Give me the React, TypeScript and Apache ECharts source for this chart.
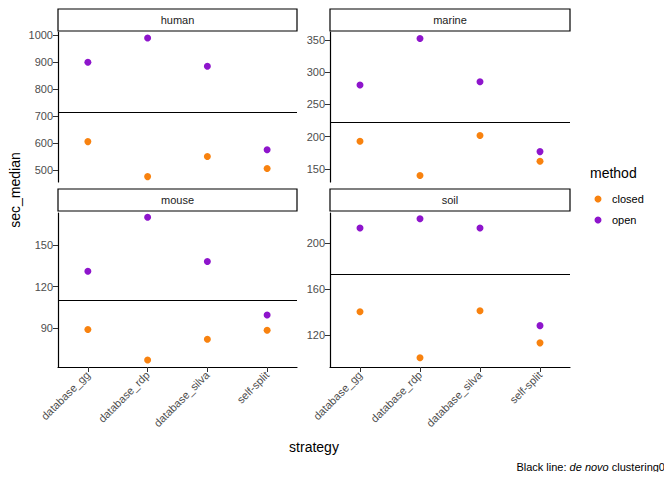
import React, { useEffect, useRef } from 'react';
import * as echarts from 'echarts';

const strategies = ['database_gg', 'database_rdp', 'database_silva', 'self-split'];
const panels = ['human', 'marine', 'mouse', 'soil'];
const closedValues = [
  [605, 475, 550, 505],
  [193, 140, 202, 162],
  [89, 67, 82, 88.5],
  [140, 100, 141, 113],
];
const openValues = [
  [900, 990, 885, 575],
  [280, 352, 285, 177],
  [131, 170, 138, 99.5],
  [213, 221, 213, 128],
];
const deNovo = [715, 222, 110, 173];
const yTicks = [
  [500, 600, 700, 800, 900, 1000],
  [150, 200, 250, 300, 350],
  [90, 120, 150],
  [120, 160, 200],
];
const yRanges = [
  [455, 1012],
  [130, 362],
  [62, 173],
  [92, 226],
];

const CLOSED = '#F8820F';
const OPEN = '#8E15CC';
const FONT = 'Liberation Sans, Arial, sans-serif';
const O = 8; // body margin offset

const App = () => {
  const chartRef = useRef<HTMLDivElement>(null);

  useEffect(() => {
    if (!chartRef.current) return;
    const chart = echarts.init(chartRef.current, null, { renderer: 'svg' });

    const boxes = [
      { left: 58 - O, top: 32 - O, width: 239, height: 150 },
      { left: 330 - O, top: 32 - O, width: 240, height: 150 },
      { left: 58 - O, top: 213 - O, width: 239, height: 154 },
      { left: 330 - O, top: 213 - O, width: 240, height: 154 },
    ];

    const series: any[] = [];
    panels.forEach((_, i) => {
      series.push({
        type: 'scatter', xAxisIndex: i, yAxisIndex: i, symbolSize: 7,
        itemStyle: { color: CLOSED, opacity: 1 }, data: closedValues[i],
        markLine: {
          silent: true, symbol: 'none', label: { show: false },
          lineStyle: { color: '#000', type: 'solid', width: 1.2 },
          data: [{ yAxis: deNovo[i] }],
        },
      });
      series.push({
        type: 'scatter', xAxisIndex: i, yAxisIndex: i, symbolSize: 7,
        itemStyle: { color: OPEN, opacity: 1 }, data: openValues[i],
      });
    });

    const graphic: any[] = [];
    panels.forEach((name, i) => {
      const b = boxes[i];
      const top = (i < 2 ? 9 : 189) - O;
      graphic.push({
        type: 'rect', shape: { x: b.left, y: top, width: b.width, height: 22 },
        style: { fill: '#fff', stroke: '#000', lineWidth: 1.2 },
      });
      graphic.push({
        type: 'text', x: b.left + b.width / 2, y: top + 11,
        style: { text: name, fill: '#1a1a1a', font: `11px ${FONT}`, align: 'center', verticalAlign: 'middle' },
      });
    });
    graphic.push(
      { type: 'text', x: 590 - O, y: 173 - O, style: { text: 'method', fill: '#000', font: `14px ${FONT}`, verticalAlign: 'middle' } },
      { type: 'circle', shape: { cx: 598 - O, cy: 199 - O, r: 3.5 }, style: { fill: CLOSED } },
      { type: 'text', x: 612 - O, y: 199 - O, style: { text: 'closed', fill: '#000', font: `11px ${FONT}`, verticalAlign: 'middle' } },
      { type: 'circle', shape: { cx: 598 - O, cy: 220 - O, r: 3.5 }, style: { fill: OPEN } },
      { type: 'text', x: 612 - O, y: 220 - O, style: { text: 'open', fill: '#000', font: `11px ${FONT}`, verticalAlign: 'middle' } },
      { type: 'text', x: 314 - O, y: 447 - O, style: { text: 'strategy', fill: '#000', font: `14px ${FONT}`, align: 'center', verticalAlign: 'middle' } },
      {
        type: 'text', x: 15 - O, y: 190 - O, rotation: Math.PI / 2,
        style: { text: 'sec_median', fill: '#000', font: `14px ${FONT}`, align: 'center', verticalAlign: 'middle' },
      },
      {
        type: 'text', x: 665 - O, y: 467 - O,
        style: {
          text: '{n|Black line: }{i|de novo}{n| clustering0}', align: 'right', verticalAlign: 'middle',
          rich: {
            n: { fontSize: 11, fontFamily: FONT, fill: '#000' },
            i: { fontSize: 11, fontFamily: FONT, fontStyle: 'italic', fill: '#000' },
          },
        },
      },
    );

    chart.setOption({
      animation: false,
      grid: boxes.map((b) => ({ ...b, containLabel: false })),
      xAxis: panels.map((_, i) => ({
        type: 'category', gridIndex: i, data: strategies, boundaryGap: true,
        axisLine: { show: i >= 2, lineStyle: { color: '#000', width: 1.2 } },
        axisTick: { show: i >= 2, alignWithLabel: true, lineStyle: { color: '#333' } },
        axisLabel: { show: i >= 2, rotate: 45, color: '#4d4d4d', fontSize: 11, fontFamily: FONT, margin: 6 },
        splitLine: { show: false },
      })),
      yAxis: panels.map((_, i) => ({
        type: 'value', gridIndex: i, min: yRanges[i][0], max: yRanges[i][1],
        axisLine: { show: true, lineStyle: { color: '#000', width: 1.2 } },
        axisTick: { show: true, customValues: yTicks[i], lineStyle: { color: '#333' } },
        axisLabel: {
          customValues: yTicks[i], formatter: (v: number) => String(v),
          color: '#4d4d4d', fontSize: 11, fontFamily: FONT, margin: 5,
        },
        splitLine: { show: false },
      })),
      series,
      graphic,
    });

    return () => chart.dispose();
  }, []);

  return <div ref={chartRef} style={{ width: 656, height: 464 }} />;
};

export default App;
